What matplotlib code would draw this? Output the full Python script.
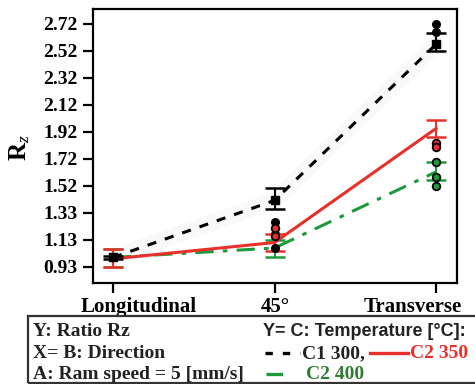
import matplotlib
matplotlib.use('Agg')
import matplotlib.pyplot as plt
import matplotlib.transforms as mtransforms
from matplotlib.lines import Line2D
from matplotlib.patches import Rectangle

# Datos del gráfico
direcciones = ['Longitudinal', '45°', 'Transverse']
xpos = [0, 1, 2]

media_c1 = [1.00, 1.42, 2.57]
bajo_c1 = [0.99, 1.36, 2.52]
alto_c1 = [1.01, 1.51, 2.65]

media_c2_350 = [0.99, 1.11, 1.95]
bajo_c2_350 = [0.93, 1.05, 1.89]
alto_c2_350 = [1.06, 1.17, 2.01]

media_c2_400 = [1.00, 1.07, 1.63]
bajo_c2_400 = [0.93, 1.00, 1.57]
alto_c2_400 = [1.06, 1.13, 1.70]

# Observaciones individuales (x, y)
obs_c1_x = [1, 1, 1, 2, 2]
obs_c1_y = [1.26, 1.17, 1.07, 2.72, 2.66]
obs_c2_350_x = [1, 1, 2, 2]
obs_c2_350_y = [1.22, 1.16, 1.84, 1.81]
obs_c2_400_x = [2, 2, 2]
obs_c2_400_y = [1.70, 1.59, 1.53]

yticks_lbl = ['0.93', '1.13', '1.33', '1.52', '1.72', '1.92', '2.12', '2.32', '2.52', '2.72']
yticks_val = [0.93 + i * (2.72 - 0.93) / 9 for i in range(10)]

rojo = '#e8302a'
verde = '#1d9a3c'
serif = 'Liberation Serif'

plt.rcParams['mathtext.fontset'] = 'custom'
plt.rcParams['mathtext.bf'] = 'Liberation Serif:bold'
plt.rcParams['mathtext.it'] = 'Liberation Serif:italic'
plt.rcParams['mathtext.rm'] = 'Liberation Serif'

fig = plt.figure(figsize=(4.75, 3.84), dpi=100)
ax = fig.add_axes([93 / 475, 1 - 283 / 384, (457 - 93) / 475, (283 - 9) / 384])

# sombra gris muy clara detrás de la línea discontinua
ax.plot(xpos, media_c1, color='#f9f9f9', lw=12, solid_capstyle='round', zorder=0)

def serie(media, bajo, alto, color, ls, z):
    ax.plot(xpos, media, color=color, ls=ls, lw=2.2, zorder=z)
    err = [[m - b for m, b in zip(media, bajo)], [a - m for m, a in zip(media, alto)]]
    ax.errorbar(xpos, media, yerr=err, fmt='none', ecolor=color, elinewidth=1.5,
                capsize=7, capthick=1.8, zorder=z)

serie(media_c2_400, bajo_c2_400, alto_c2_400, verde, (0, (6, 3, 1.5, 3)), 3)
serie(media_c2_350, bajo_c2_350, alto_c2_350, rojo, '-', 4)
serie(media_c1, bajo_c1, alto_c1, 'black', (0, (3, 3)), 5)
ax.plot(xpos, media_c1, 's', color='black', ms=6, zorder=6)

ax.plot(obs_c1_x, obs_c1_y, 'o', mfc='black', mec='black', ms=5.5, zorder=6)
ax.plot(obs_c2_350_x, obs_c2_350_y, 'o', mfc=rojo, mec='black', mew=1.3, ms=5.5, zorder=6)
ax.plot(obs_c2_400_x, obs_c2_400_y, 'o', mfc=verde, mec='black', mew=1.3, ms=5.5, zorder=6)

ax.set_xlim(-0.124, 2.13)
ax.set_ylim(0.812, 2.83)
ax.set_xticks(xpos)
ax.set_xticklabels(direcciones, fontfamily=serif, fontweight='bold', fontsize=15)
ax.set_yticks(yticks_val)
ax.set_yticklabels(yticks_lbl, fontfamily=serif, fontweight='bold', fontsize=14)
ax.tick_params(length=7, width=1.6)
ax.tick_params(axis='y', pad=4)
ax.tick_params(axis='x', pad=3)
for s in ax.spines.values():
    s.set_linewidth(1.6)

# etiquetas del eje x desplazadas hacia dentro, como en el original
desplaz = [26, 1, -23]
for lbl, dx in zip(ax.get_xticklabels(), desplaz):
    lbl.set_transform(lbl.get_transform() + mtransforms.ScaledTranslation(dx / 100, 0, fig.dpi_scale_trans))

fig.text(20 / 475, 1 - 148 / 384, r'$\mathbf{R}_{\mathit{z}}$', rotation=90, fontsize=18,
         ha='center', va='center')

# Cuadro de leyenda inferior
fig.patches.append(Rectangle((28 / 475, 1 - 383 / 384), 1.05 - 28 / 475, (383 - 316) / 384,
                             transform=fig.transFigure, fill=False, lw=1.6, ec='#333333'))
for txt, yb in [('Y: Ratio Rz', 336), ('X= B: Direction', 358), ('A: Ram speed = 5 [mm/s]', 379)]:
    fig.text(33 / 475, 1 - yb / 384, txt, fontfamily=serif, fontweight='bold',
             fontsize=14, va='baseline', color='#222222')

fig.text(263 / 475, 1 - 336 / 384, 'Y= C: Temperature [°C]:', fontfamily='Liberation Sans',
         fontweight='bold', fontsize=13, va='baseline', color='#222222')

def muestra(x0, x1, yb, color, ls):
    fig.lines.append(Line2D([x0 / 475, x1 / 475], [1 - (yb - 5) / 384] * 2, color=color,
                            ls=ls, lw=2.4, transform=fig.transFigure))

muestra(265, 300, 358, 'black', (0, (2.2, 3)))
fig.text(302 / 475, 1 - 358 / 384, 'C1 300,', fontfamily=serif, fontweight='bold',
         fontsize=14, va='baseline', color='#222222')
muestra(370, 408, 358, rojo, '-')
fig.text(410 / 475, 1 - 358 / 384, 'C2 350', fontfamily=serif, fontweight='bold',
         fontsize=14, va='baseline', color=rojo)
muestra(266, 292, 379, verde, (0, (5, 4, 1.5, 4)))
fig.text(306 / 475, 1 - 379 / 384, 'C2 400', fontfamily=serif, fontweight='bold',
         fontsize=14, va='baseline', color='#2e7d32')

fig.savefig('out.png', dpi=100)
